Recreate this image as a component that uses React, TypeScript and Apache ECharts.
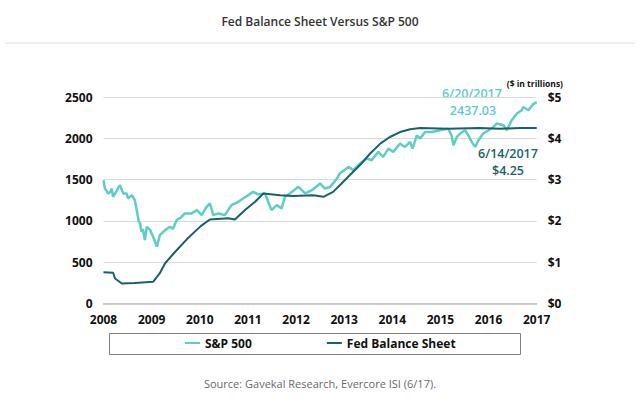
import React, { useEffect, useRef } from "react";
import * as echarts from "echarts";

// Years are on the chart's evenly spaced label scale (2008 ... 2017)
const spYears = [
  2008.0, 2008.03, 2008.1, 2008.14, 2008.17, 2008.2, 2008.27, 2008.34, 2008.41, 2008.48,
  2008.51, 2008.59, 2008.65, 2008.69, 2008.73, 2008.76, 2008.79, 2008.82, 2008.86, 2008.9,
  2008.97, 2009.03, 2009.11, 2009.17, 2009.28, 2009.38, 2009.44, 2009.52, 2009.61, 2009.69,
  2009.83, 2009.94, 2010.04, 2010.13, 2010.21, 2010.28, 2010.39, 2010.52, 2010.66, 2010.8,
  2010.9, 2011.01, 2011.11, 2011.21, 2011.36, 2011.42, 2011.49, 2011.6, 2011.7, 2011.77,
  2011.87, 2012.05, 2012.19, 2012.33, 2012.5, 2012.6, 2012.71, 2012.85, 2012.91, 2013.09,
  2013.19, 2013.33, 2013.47, 2013.57, 2013.71, 2013.81, 2013.92, 2014.02, 2014.16, 2014.26,
  2014.37, 2014.42, 2014.51, 2014.58, 2014.68, 2014.82, 2014.99, 2015.16, 2015.23, 2015.27,
  2015.34, 2015.41, 2015.51, 2015.58, 2015.65, 2015.72, 2015.79, 2015.89, 2016.0, 2016.1,
  2016.17, 2016.31, 2016.38, 2016.48, 2016.59, 2016.69, 2016.72, 2016.83, 2016.92, 2017.0,
];
const spValues = [
  1492, 1391, 1331, 1351, 1391, 1290, 1360, 1432, 1331, 1331,
  1270, 1311, 1250, 1129, 1000, 968, 866, 900, 766, 927,
  887, 806, 685, 826, 887, 927, 900, 1008, 1040, 1089,
  1089, 1129, 1068, 1160, 1210, 1068, 1089, 1068, 1190, 1230,
  1270, 1311, 1351, 1320, 1331, 1230, 1129, 1190, 1150, 1290,
  1331, 1411, 1331, 1371, 1452, 1391, 1411, 1512, 1573, 1653,
  1613, 1694, 1755, 1734, 1835, 1775, 1875, 1835, 1936, 1895,
  1956, 1875, 2036, 1996, 2077, 2077, 2097, 2117, 2036, 1916,
  2016, 2057, 2097, 2036, 1956, 1895, 1976, 2057, 2097, 2137,
  2178, 2157, 2097, 2218, 2299, 2339, 2379, 2339, 2410, 2437.03,
];

const fedYears = [
  2008.0, 2008.2, 2008.24, 2008.38, 2008.65, 2009.03, 2009.17, 2009.28, 2009.49, 2009.73,
  2010.02, 2010.21, 2010.59, 2010.73, 2010.94, 2011.15, 2011.32, 2011.67, 2011.94, 2012.36,
  2012.57, 2012.77, 2012.91, 2013.12, 2013.33, 2013.54, 2013.75, 2013.95, 2014.16, 2014.37,
  2014.58, 2015.16, 2015.82, 2016.24, 2016.65, 2017.0,
];
const fedValues = [
  0.75, 0.74, 0.6, 0.48, 0.49, 0.52, 0.73, 0.97, 1.25, 1.55,
  1.87, 2.03, 2.06, 2.03, 2.26, 2.46, 2.66, 2.62, 2.6, 2.62,
  2.58, 2.7, 2.86, 3.11, 3.35, 3.63, 3.87, 4.03, 4.15, 4.22,
  4.25, 4.23, 4.25, 4.23, 4.25, 4.25,
];

const leftTicks = [0, 2500, 500];
const rightTicks = [0, 5, 1];
const xRange = [2008, 2017];

const TITLE = "Fed Balance Sheet Versus S&P 500";
const SOURCE = "Source: Gavekal Research, Evercore ISI (6/17).";
const SP_DATE = "6/20/2017";
const SP_LAST = "2437.03";
const FED_DATE = "6/14/2017";
const FED_LAST = "$4.25";
const SP_COLOR = "#5ecdc5";
const FED_COLOR = "#18616c";
const FONT = "'Open Sans', 'Noto Sans', sans-serif";

export default function App() {
  const ref = useRef<HTMLDivElement>(null);
  useEffect(() => {
    if (!ref.current) return;
    const chart = echarts.init(ref.current, undefined, { renderer: "svg" });
    const axisLabel = { color: "#111", fontFamily: FONT, fontSize: 12, fontWeight: "bold" as const };
    const note = (text: string, x: number, y: number, fill: string) => ({
      type: "text",
      x,
      y,
      style: {
        text,
        fontFamily: FONT,
        fontSize: 12.5,
        fontWeight: 600,
        fill,
        align: "center",
        verticalAlign: "middle",
      },
    });
    chart.setOption({
      animation: false,
      textStyle: { fontFamily: FONT },
      title: {
        text: TITLE,
        left: "center",
        top: 10,
        textStyle: { fontFamily: FONT, fontSize: 12, fontWeight: 600, color: "#333" },
      },
      grid: { left: 103.5, right: 103.3, top: 97, bottom: 112.7, containLabel: false },
      legend: {
        data: ["S&P 500", "Fed Balance Sheet"],
        left: 185,
        top: 337,
        icon: "rect",
        itemWidth: 15,
        itemHeight: 2,
        itemGap: 75,
        padding: 0,
        textStyle: { fontFamily: FONT, fontSize: 12, fontWeight: "bold", color: "#111" },
      },
      xAxis: {
        type: "value",
        min: xRange[0],
        max: xRange[1],
        interval: 1,
        axisLine: { show: true, lineStyle: { color: "#bfbfbf", width: 1.5 } },
        axisTick: { show: false },
        splitLine: { show: false },
        axisLabel: { ...axisLabel, margin: 10, formatter: (v: number) => String(v) },
      },
      yAxis: [
        {
          type: "value",
          min: leftTicks[0],
          max: leftTicks[1],
          interval: leftTicks[2],
          axisLine: { show: false },
          axisTick: { show: false },
          splitLine: { lineStyle: { color: "#d9d9d9", width: 1 } },
          axisLabel: { ...axisLabel, margin: 11, formatter: (v: number) => String(v) },
        },
        {
          type: "value",
          min: rightTicks[0],
          max: rightTicks[1],
          interval: rightTicks[2],
          axisLine: { show: false },
          axisTick: { show: false },
          splitLine: { show: false },
          axisLabel: { ...axisLabel, margin: 11, formatter: (v: number) => "$" + v },
        },
      ],
      series: [
        {
          name: "S&P 500",
          type: "line",
          yAxisIndex: 0,
          showSymbol: false,
          data: spYears.map((y, i) => [y, spValues[i]]),
          lineStyle: { color: SP_COLOR, width: 2.5 },
          itemStyle: { color: SP_COLOR },
          z: 2,
        },
        {
          name: "Fed Balance Sheet",
          type: "line",
          yAxisIndex: 1,
          showSymbol: false,
          data: fedYears.map((y, i) => [y, fedValues[i]]),
          lineStyle: { color: FED_COLOR, width: 2 },
          itemStyle: { color: FED_COLOR },
          z: 3,
        },
      ],
      graphic: [
        {
          type: "line",
          shape: { x1: 5, y1: 43, x2: 635, y2: 43 },
          style: { stroke: "#f0f0f0", lineWidth: 2 },
          silent: true,
        },
        {
          type: "rect",
          shape: { x: 109.5, y: 333.5, width: 411, height: 21 },
          style: { fill: "none", stroke: "#808080", lineWidth: 1 },
          silent: true,
        },
        {
          type: "text",
          x: 563,
          y: 83,
          style: {
            text: "($ in trillions)",
            fontFamily: FONT,
            fontSize: 8.5,
            fontWeight: "bold",
            fill: "#111",
            align: "right",
            verticalAlign: "middle",
          },
        },
        note(SP_DATE, 472, 93.5, SP_COLOR),
        note(SP_LAST, 473, 110.5, SP_COLOR),
        note(FED_DATE, 508, 153.5, FED_COLOR),
        note(FED_LAST, 508, 170.5, FED_COLOR),
        {
          type: "text",
          x: 320,
          y: 383,
          style: {
            text: SOURCE,
            fontFamily: FONT,
            fontSize: 11,
            fill: "#6a6a6a",
            align: "center",
            verticalAlign: "middle",
          },
        },
      ],
    });
    return () => chart.dispose();
  }, []);
  return (
    <div
      ref={ref}
      style={{ position: "fixed", left: 0, top: 0, width: 640, height: 416, background: "#fff" }}
    />
  );
}
